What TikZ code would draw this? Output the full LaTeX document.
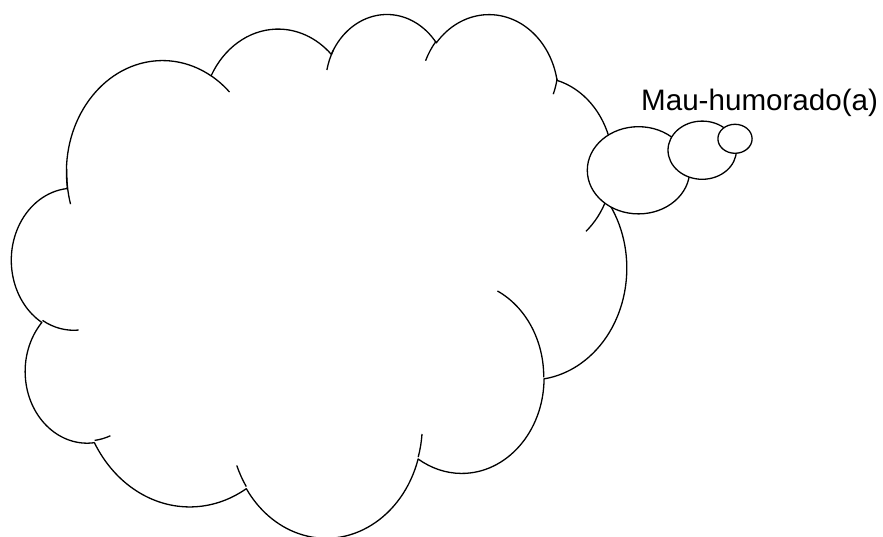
\documentclass[tikz,border=0pt]{standalone}
\usepackage{fontspec}
\setmainfont{Liberation Sans}
\usetikzlibrary{shapes.geometric}

\tikzset{
  % elliptical arc given DrawingML-style: radii in path units, visual start angle and sweep in degrees
  oarc/.code n args={4}{%
    \pgfmathsetmacro\oarcA{atan2((#1)*sin(#3),(#2)*cos(#3))}%
    \pgfmathsetmacro\oarcB{atan2((#1)*sin((#3)+(#4)),(#2)*cos((#3)+(#4)))}%
    \pgfmathsetmacro\oarcD{mod((\oarcB)-(\oarcA)+720,360)}%
    \pgfmathsetmacro\oarcX{(#1)/100}%
    \pgfmathsetmacro\oarcY{(#2)/100}%
    \edef\oarcTmp{\noexpand\pgfkeysalso{start angle=\oarcA,delta angle=\oarcD,x radius=\oarcX pt,y radius=\oarcY pt}}%
    \oarcTmp
  },
  outline/.style={draw=black, line width=1.3pt, line join=round},
  bubble/.style={outline, fill=white, ellipse, inner sep=0pt, outer sep=0pt},
  caption/.style={anchor=base, inner sep=0pt, font=\fontsize{29.6}{32}\selectfont},
}

\begin{document}
\begin{tikzpicture}[x=1pt, y=1pt]
  \useasboundingbox (0,0) rectangle (883,537);

  % cloud body, path units of 1/100 of a 43200 square
  \begin{scope}[shift={(11.8,524.2)}, xscale=1.423, yscale=-1.212]
    \path[outline, fill=white] (39.00,143.70)
      arc[oarc={6753}{9190}{-190.48748}{123.78053}]
      arc[oarc={5333}{7267}{-144.10238}{89.94523}]
      arc[oarc={4365}{5945}{-145.80792}{99.72302}]
      arc[oarc={4857}{6595}{-130.98607}{117.24173}]
      arc[oarc={5333}{7273}{-78.70888}{109.02692}]
      arc[oarc={6775}{9220}{-46.26725}{130.269}]
      arc[oarc={5785}{7867}{0.62502}{114.03333}]
      arc[oarc={6752}{9215}{22.4516}{115.17255}]
      arc[oarc={7720}{10543}{66.24263}{75.71102}]
      arc[oarc={4360}{5918}{-274.94208}{146.73557}]
      arc[oarc={4345}{5945}{-246.8285}{152.51885}]
      -- cycle;

    % inner lobe edges
    \path[outline]
      (46.93,261.77) arc[oarc={4345}{5945}{86.742}{26.4295}]
      (69.28,348.99) arc[oarc={4360}{5918}{73.61047}{11.44747}]
      (164.78,390.90) arc[oarc={6752}{9215}{137.62415}{14.0811}]
      (288.27,347.51) arc[oarc={6752}{9215}{6.45327}{15.99835}]
      (341.29,229.54) arc[oarc={5785}{7867}{-70.29235}{70.91737}]
      (417.98,153.54) arc[oarc={5333}{7273}{30.31803}{27.7515}]
      (383.24,54.26) arc[oarc={4857}{6595}{13.74433}{14.8589}]
      (290.78,39.52) arc[oarc={4857}{6595}{-149.18145}{18.19537}]
      (221.41,47.20) arc[oarc={4365}{5945}{-163.49427}{20.74563}]
      (140.00,51.92) arc[oarc={6753}{9190}{-66.70695}{12.31935}]
      (41.27,157.89) arc[oarc={6753}{9190}{158.58288}{24.4419}];
  \end{scope}

  % thought bubbles
  \node[bubble, minimum width=102.4pt, minimum height=87.2pt] (bubble1) at (638.5,366.7) {};
  \node[bubble, minimum width=68.4pt, minimum height=58.2pt] (bubble2) at (702.2,386.8) {};
  \node[bubble, minimum width=34.2pt, minimum height=29.0pt] (bubble3) at (735.0,398.2) {};

  \node[caption] (mood) at (759.6,426) {Mau-humorado(a)};
\end{tikzpicture}
\end{document}
